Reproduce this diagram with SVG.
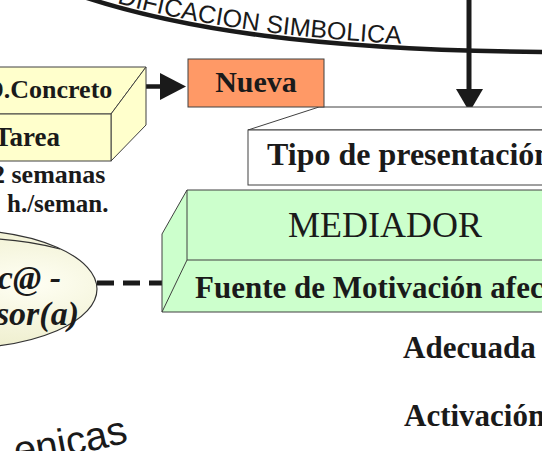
<svg xmlns="http://www.w3.org/2000/svg" width="542" height="451" viewBox="0 0 542 451">
<style>
.b{font-family:"Liberation Serif","Times New Roman",serif;font-weight:bold;fill:#1a1a1a}
.r{font-family:"Liberation Serif","Times New Roman",serif;fill:#1a1a1a}
.bi{font-family:"Liberation Serif","Times New Roman",serif;font-weight:bold;font-style:italic;fill:#1a1a1a}
.s{font-family:"Liberation Sans",Arial,sans-serif;fill:#1a1a1a}
.box{stroke:#404040;stroke-width:1;stroke-linejoin:miter}
.ln{stroke:#1a1a1a;fill:none}
</style>
<defs>
<radialGradient id="eg" cx="0.75" cy="0.45" r="0.7">
<stop offset="0" stop-color="#FFFFF4"/>
<stop offset="1" stop-color="#EAEAC4"/>
</radialGradient>
<path id="tp1" d="M 75 -10 C 155.85 17.72, 257.45 35.95, 401.26 43.79"/>
<path id="tp2" d="M 0 466 Q 70 459 155 435"/>
</defs>

<g id="connectors">
<path class="ln" stroke-width="4.5" d="M 75 -6 C 180 30, 320 50, 542 52"/>
<line class="ln" x1="469" y1="-5" x2="469" y2="92" stroke-width="5"/>
<polygon points="456,89 483,89 469.5,112" fill="#1a1a1a"/>
<line class="ln" x1="144" y1="86.5" x2="162" y2="86.5" stroke-width="4.5"/>
<polygon points="160,73 160,100 186,86.5" fill="#1a1a1a"/>
<line class="ln" x1="97" y1="283" x2="164" y2="283" stroke-width="5" stroke-dasharray="17 9"/>
</g>

<g id="codificacion">
<text class="s" font-size="25"><textPath href="#tp1" startOffset="100%" text-anchor="end">DIFICACION SIMBOLICA</textPath></text>
</g>

<g id="tipo">
<polygon class="box" fill="#ffffff" points="248,130 319,107 545,107 545,130"/>
<rect class="box" fill="#ffffff" x="248" y="130" width="297" height="55"/>
<text class="b" x="267" y="165" font-size="32">Tipo de presentación</text>
</g>

<g id="nueva">
<rect class="box" fill="#FF9966" x="188" y="59" width="136" height="48"/>
<text class="b" x="256" y="92" font-size="30" text-anchor="middle">Nueva</text>
</g>

<g id="concreto">
<polygon class="box" fill="#FFFFCC" points="-2,67 146,67 111,114 -2,114"/>
<polygon class="box" fill="#FFFFCC" points="111,114 146,67 146,125 111,161"/>
<rect class="box" fill="#FFFFCC" x="-2" y="114" width="113" height="47"/>
<text class="b" x="-15" y="98" font-size="26">D.Concreto</text>
<text class="b" x="-6" y="146" font-size="27">Tarea</text>
<text class="b" x="-8" y="183" font-size="26">2 semanas</text>
<text class="b" x="7" y="212" font-size="25">h./seman.</text>
</g>

<g id="mediador">
<polygon class="box" fill="#CCFFCC" points="187,190 545,190 545,312 162,312 162,234"/>
<path class="box" fill="none" d="M 187 190 L 187 260 L 545 260 M 187 260 L 162 312"/>
<text class="r" x="288" y="237" font-size="36">MEDIADOR</text>
<text class="b" x="195" y="298" font-size="31">Fuente de Motivación afec</text>
</g>

<g id="persona">
<ellipse cx="-40" cy="289" rx="137" ry="59" fill="url(#eg)" stroke="#333" stroke-width="1.2"/>
<path d="M -2 239 Q 30 241 60 249" fill="none" stroke="#333" stroke-width="1.2"/>
<text class="bi" x="61" y="289" font-size="34" text-anchor="end">c@ -</text>
<text class="bi" x="79" y="325" font-size="34" text-anchor="end">sor(a)</text>
</g>

<g id="adecuada">
<text class="b" x="403" y="358" font-size="31">Adecuada -</text>
</g>
<g id="activacion">
<text class="b" x="404" y="426" font-size="31">Activación</text>
</g>
<g id="tecnicas">
<text class="s" font-size="40"><textPath href="#tp2" startOffset="16">enicas</textPath></text>
</g>
</svg>
